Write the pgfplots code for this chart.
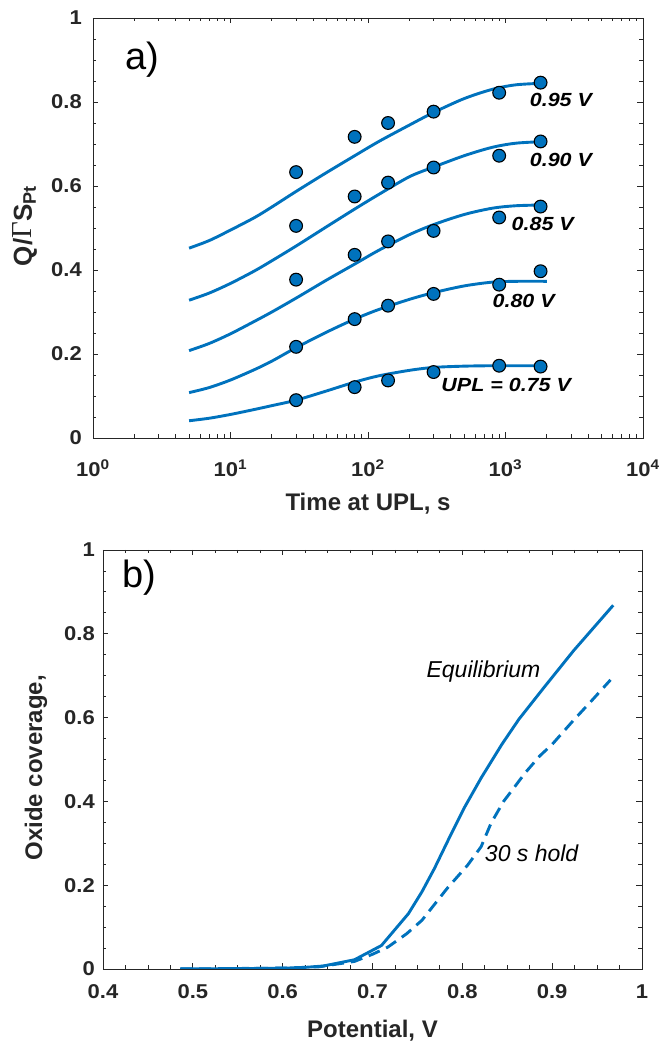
\documentclass[border=0pt]{standalone}
\usepackage{pgfplots}
\pgfplotsset{compat=1.18}
\usepackage{fontspec}
\setmainfont{Liberation Sans}
\newfontfamily\tickfont{Liberation Sans}[FakeStretch=1.1]
\newfontfamily\annfont{Liberation Sans}[FakeStretch=1.13]
\newfontfamily\seriffont{Liberation Serif}
\definecolor{mblue}{RGB}{0,114,189}
\definecolor{axgray}{RGB}{38,38,38}
\pgfplotsset{
  mystyle/.style={
    scale only axis,
    axis line style={axgray, line width=0.8pt},
    tick style={axgray, line width=0.8pt},
    tick align=inside,
    major tick length=5.5pt, minor tick length=3.5pt,
    xtick pos=both, ytick pos=both,
    xticklabel pos=lower, yticklabel pos=left,
    /pgf/number format/assume math mode=true,
    ticklabel style={font=\tickfont\bfseries\fontsize{20}{20}\selectfont, text=axgray},
    label style={font=\bfseries\fontsize{24}{24}\selectfont, text=axgray},
    curve/.style={mblue, line width=2.9pt},
    pts/.style={only marks, mark=*, mark size=6.4pt, mark options={fill=mblue, draw=black, line width=1.1pt}},
  }
}
\begin{document}
\begin{tikzpicture}[x=1pt,y=1pt]
\path (0,0) rectangle (661,1045);
% ---------------- top: a) ----------------
\begin{axis}[mystyle,
  at={(93pt,607pt)}, anchor=south west,
  width=550pt, height=420pt,
  xmode=log, xmin=1, xmax=10000, ymin=0, ymax=1,
  xtick={1,10,100,1000,10000},
  xticklabels={10\textsuperscript{0},10\textsuperscript{1},10\textsuperscript{2},10\textsuperscript{3},10\textsuperscript{4}},
  minor xtick={2,3,4,5,6,7,8,9,20,30,40,50,60,70,80,90,200,300,400,500,600,700,800,900,2000,3000,4000,5000,6000,7000,8000,9000},
  ytick={0,0.2,0.4,0.6,0.8,1}, minor y tick num=3,
  xticklabel style={anchor=base, yshift=-39pt},
  yticklabel style={anchor=east, inner sep=0pt, xshift=-11pt},
  xlabel={Time at UPL, s},
  xlabel style={at={(axis description cs:0.5,0)}, anchor=base, yshift=-73pt},
  ylabel={Q/{\seriffont\mdseries\fontsize{29}{29}\selectfont Γ}S\textsubscript{Pt}},
  ylabel style={at={(axis description cs:-0.111,0.505)}, anchor=base, font=\bfseries\fontsize{26}{26}\selectfont},
]
% fitted curves
\addplot[curve, smooth] coordinates {(5,0.452)(7,0.47)(10,0.495)(15,0.525)(20,0.55)(30,0.587)(50,0.632)(80,0.672)(120,0.706)(200,0.745)(300,0.775)(500,0.808)(800,0.83)(1200,0.841)(2000,0.845)};
\addplot[curve, smooth] coordinates {(5,0.328)(7,0.345)(10,0.368)(15,0.398)(20,0.422)(30,0.457)(50,0.503)(80,0.545)(120,0.58)(200,0.622)(300,0.645)(500,0.672)(800,0.692)(1200,0.702)(2000,0.706)};
\addplot[curve, smooth] coordinates {(5,0.208)(7,0.225)(10,0.248)(15,0.278)(20,0.300)(30,0.333)(50,0.376)(80,0.414)(120,0.447)(200,0.484)(300,0.508)(500,0.532)(800,0.547)(1200,0.553)(2000,0.555)};
\addplot[curve, smooth] coordinates {(5,0.108)(7,0.12)(10,0.138)(15,0.163)(20,0.183)(30,0.215)(50,0.252)(80,0.283)(120,0.306)(200,0.33)(300,0.346)(500,0.362)(800,0.371)(1200,0.373)(2000,0.373)};
\addplot[curve, smooth] coordinates {(5,0.041)(7,0.047)(10,0.056)(15,0.068)(20,0.077)(30,0.090)(50,0.112)(80,0.133)(120,0.148)(200,0.161)(300,0.168)(500,0.171)(800,0.172)(1200,0.172)(2000,0.172)};
% data points
\addplot[pts] coordinates {(30,0.633)(80,0.717)(140,0.750)(300,0.777)(900,0.822)(1800,0.846)};
\addplot[pts] coordinates {(30,0.505)(80,0.575)(140,0.608)(300,0.644)(900,0.672)(1800,0.706)};
\addplot[pts] coordinates {(30,0.377)(80,0.436)(140,0.468)(300,0.493)(900,0.525)(1800,0.551)};
\addplot[pts] coordinates {(30,0.217)(80,0.283)(140,0.315)(300,0.343)(900,0.365)(1800,0.397)};
\addplot[pts] coordinates {(30,0.090)(80,0.121)(140,0.137)(300,0.157)(900,0.172)(1800,0.170)};
\begin{scope}[every node/.style={anchor=west, inner sep=0pt, text=black, font=\annfont\bfseries\itshape\fontsize{19}{19}\selectfont}]
\node at (axis cs:1500,0.805) {0.95 V};
\node at (axis cs:1500,0.662) {0.90 V};
\node at (axis cs:1106,0.51) {0.85 V};
\node at (axis cs:804,0.326) {0.80 V};
\node at (axis cs:341,0.126) {UPL = 0.75 V};
\end{scope}
\node[anchor=west, inner sep=0pt, font=\fontsize{38}{38}\selectfont] at (rel axis cs:0.058,0.9) {a)};
\end{axis}
% ---------------- bottom: b) ----------------
\begin{axis}[mystyle,
  at={(103pt,76pt)}, anchor=south west,
  width=539pt, height=419pt,
  xmin=0.4, xmax=1, ymin=0, ymax=1,
  xtick={0.4,0.5,0.6,0.7,0.8,0.9,1}, minor x tick num=3,
  ytick={0,0.2,0.4,0.6,0.8,1}, minor y tick num=3,
  xticklabel style={anchor=base, yshift=-30pt},
  yticklabel style={anchor=east, inner sep=0pt, xshift=-8pt},
  xlabel={Potential, V},
  xlabel style={at={(axis description cs:0.5,0)}, anchor=base, yshift=-69pt},
  ylabel={Oxide coverage,},
  ylabel style={at={(axis description cs:-0.113,0.48)}, anchor=base},
]
\addplot[curve] coordinates {(0.486,0)(0.52,0.0005)(0.56,0.001)(0.60,0.002)(0.62,0.003)(0.645,0.007)(0.68,0.022)(0.71,0.056)(0.74,0.132)(0.755,0.184)(0.769,0.24)(0.788,0.324)(0.802,0.384)(0.821,0.456)(0.844,0.536)(0.863,0.596)(0.891,0.672)(0.924,0.76)(0.968,0.868)};
\addplot[curve, dash pattern=on 12pt off 7pt] coordinates {(0.486,0)(0.60,0.002)(0.64,0.005)(0.68,0.018)(0.70,0.035)(0.717,0.052)(0.738,0.084)(0.755,0.116)(0.783,0.192)(0.806,0.248)(0.821,0.292)(0.832,0.348)(0.846,0.40)(0.870,0.468)(0.886,0.508)(0.900,0.536)(0.924,0.594)(0.943,0.638)(0.965,0.69)};
\begin{scope}[every node/.style={anchor=west, inner sep=0pt, text=black, font=\itshape\fontsize{23}{23}\selectfont}]
\node at (axis cs:0.76,0.71) {Equilibrium};
\node at (axis cs:0.825,0.276) {30 s hold};
\end{scope}
\node[anchor=west, inner sep=0pt, font=\fontsize{38}{38}\selectfont] at (rel axis cs:0.035,0.935) {b)};
\end{axis}
\end{tikzpicture}
\end{document}
